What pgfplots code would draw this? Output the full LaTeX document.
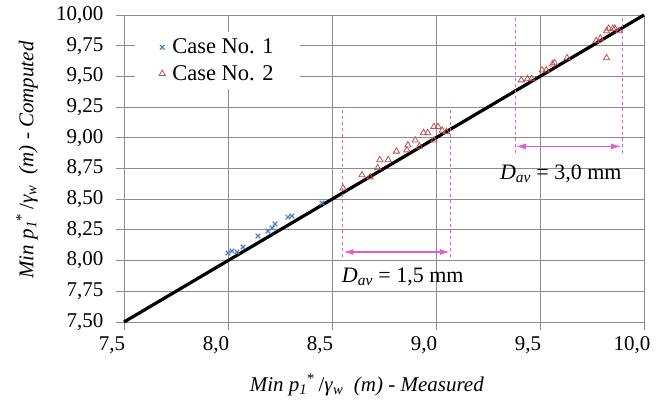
\documentclass[border=0pt]{standalone}
\usepackage{pgfplots}
\pgfplotsset{compat=1.18}
\usepackage{fontspec}
\setmainfont{Liberation Serif}
\usetikzlibrary{arrows.meta}

\definecolor{caseblue}{RGB}{79,129,189}
\definecolor{casered}{RGB}{192,80,77}
\definecolor{dimpink}{RGB}{226,92,204}
\definecolor{gridgray}{RGB}{140,140,140}

\begin{document}
\begin{tikzpicture}
\begin{axis}[
    scale only axis,
    width=520pt, height=307pt,
    xmin=7.5, xmax=10, ymin=7.5, ymax=10,
    xtick={7.5,8,8.5,9,9.5,10},
    ytick={7.5,7.75,8,8.25,8.5,8.75,9,9.25,9.5,9.75,10},
    grid=major,
    grid style={gridgray, line width=0.9pt},
    axis line style={gridgray, line width=0.9pt},
    tick style={gridgray, line width=0.9pt},
    tick align=outside,
    major tick length=8pt,
    xtick pos=bottom, ytick pos=left,
    font=\rmfamily\fontsize{21}{25}\selectfont,
    /pgf/number format/assume math mode=true,
    /pgf/number format/use comma,
    xticklabel style={/pgf/number format/.cd, fixed, fixed zerofill, precision=1, /tikz/.cd, xshift=-12pt, yshift=-3pt},
    yticklabel style={/pgf/number format/.cd, fixed, fixed zerofill, precision=2, /tikz/.cd, xshift=-9pt},
    xlabel={\textit{Min p}\textsubscript{\textit{1}}\textsuperscript{*}\,/\textit{γ}\textsubscript{\textit{w}}\ \ \textit{(m) - Measured}},
    ylabel={\textit{Min p}\textsubscript{\textit{1}}\textsuperscript{*}\,/\textit{γ}\textsubscript{\textit{w}}\ \ \textit{(m) - Computed}},
    xlabel style={at={(axis description cs:0.467,-0.205)}, anchor=center},
    ylabel style={at={(axis description cs:-0.1865,0.528)}, anchor=center},
    legend style={at={(axis description cs:0.021,0.945)}, anchor=north west,
        draw=none, fill=white, font=\rmfamily\fontsize{22.5}{24}\selectfont,
        row sep=6pt, inner xsep=24pt, inner ysep=5pt,
        /tikz/every odd column/.append style={column sep=5pt}},
    legend cell align=left,
    clip=false,
]
\addplot[only marks, mark=x, mark size=3.2pt, color=caseblue, line width=1.2pt] coordinates {
    (8.000,8.062) (8.019,8.078) (8.043,8.070) (8.072,8.111)
    (8.144,8.200) (8.192,8.241) (8.212,8.265) (8.226,8.298)
    (8.288,8.355) (8.308,8.363) (8.452,8.469)
};
\addlegendentry{Case No. 1}
\addplot[only marks, mark=triangle, mark size=3.6pt, color=casered, line width=0.8pt] coordinates {
    (8.553,8.590) (8.644,8.697) (8.683,8.680) (8.720,8.754)
    (8.730,8.820) (8.770,8.820) (8.810,8.890) (8.860,8.900)
    (8.865,8.940) (8.900,8.980) (8.920,8.930) (8.940,9.040)
    (8.960,9.040) (8.990,8.980) (8.990,9.090) (9.010,9.090)
    (9.030,9.060) (9.050,9.050)
    (9.410,9.470) (9.440,9.480) (9.460,9.480) (9.510,9.550)
    (9.530,9.550) (9.560,9.600) (9.570,9.610) (9.630,9.650)
    (9.770,9.790) (9.790,9.810) (9.820,9.870) (9.830,9.890)
    (9.850,9.890) (9.860,9.890) (9.880,9.870) (9.820,9.650)
};
\addlegendentry{Case No. 2}
\addplot[black, line width=3.2pt, forget plot] coordinates {(7.5,7.5) (10,10)};

% dimension marks
\draw[dimpink, dashed, line width=0.8pt] (axis cs:8.551,8.03) -- (axis cs:8.551,9.25);
\draw[dimpink, dashed, line width=0.8pt] (axis cs:9.071,8.03) -- (axis cs:9.071,9.25);
\draw[dimpink, line width=1.2pt, {Latex[length=10pt,width=6pt]}-{Latex[length=10pt,width=6pt]}] (axis cs:8.555,8.07) -- (axis cs:9.067,8.07);
\node[font=\rmfamily\fontsize{22}{24}\selectfont] at (axis cs:8.84,7.87) {\textit{D}\textsubscript{\textit{av}} = 1,5 mm};
\draw[dimpink, dashed, line width=0.8pt] (axis cs:9.38,8.88) -- (axis cs:9.38,10);
\draw[dimpink, dashed, line width=0.8pt] (axis cs:9.894,8.88) -- (axis cs:9.894,10);
\draw[dimpink, line width=1.2pt, {Latex[length=10pt,width=6pt]}-{Latex[length=10pt,width=6pt]}] (axis cs:9.384,8.93) -- (axis cs:9.89,8.93);
\node[font=\rmfamily\fontsize{22}{24}\selectfont] at (axis cs:9.60,8.71) {\textit{D}\textsubscript{\textit{av}} = 3,0 mm};

\coordinate (ll) at (rel axis cs:0,0);
\coordinate (ur) at (rel axis cs:1,1);
\end{axis}
\pgfresetboundingbox
\path ([xshift=-124pt,yshift=-84pt]ll) rectangle ([xshift=21pt,yshift=15pt]ur);
\end{tikzpicture}
\end{document}
